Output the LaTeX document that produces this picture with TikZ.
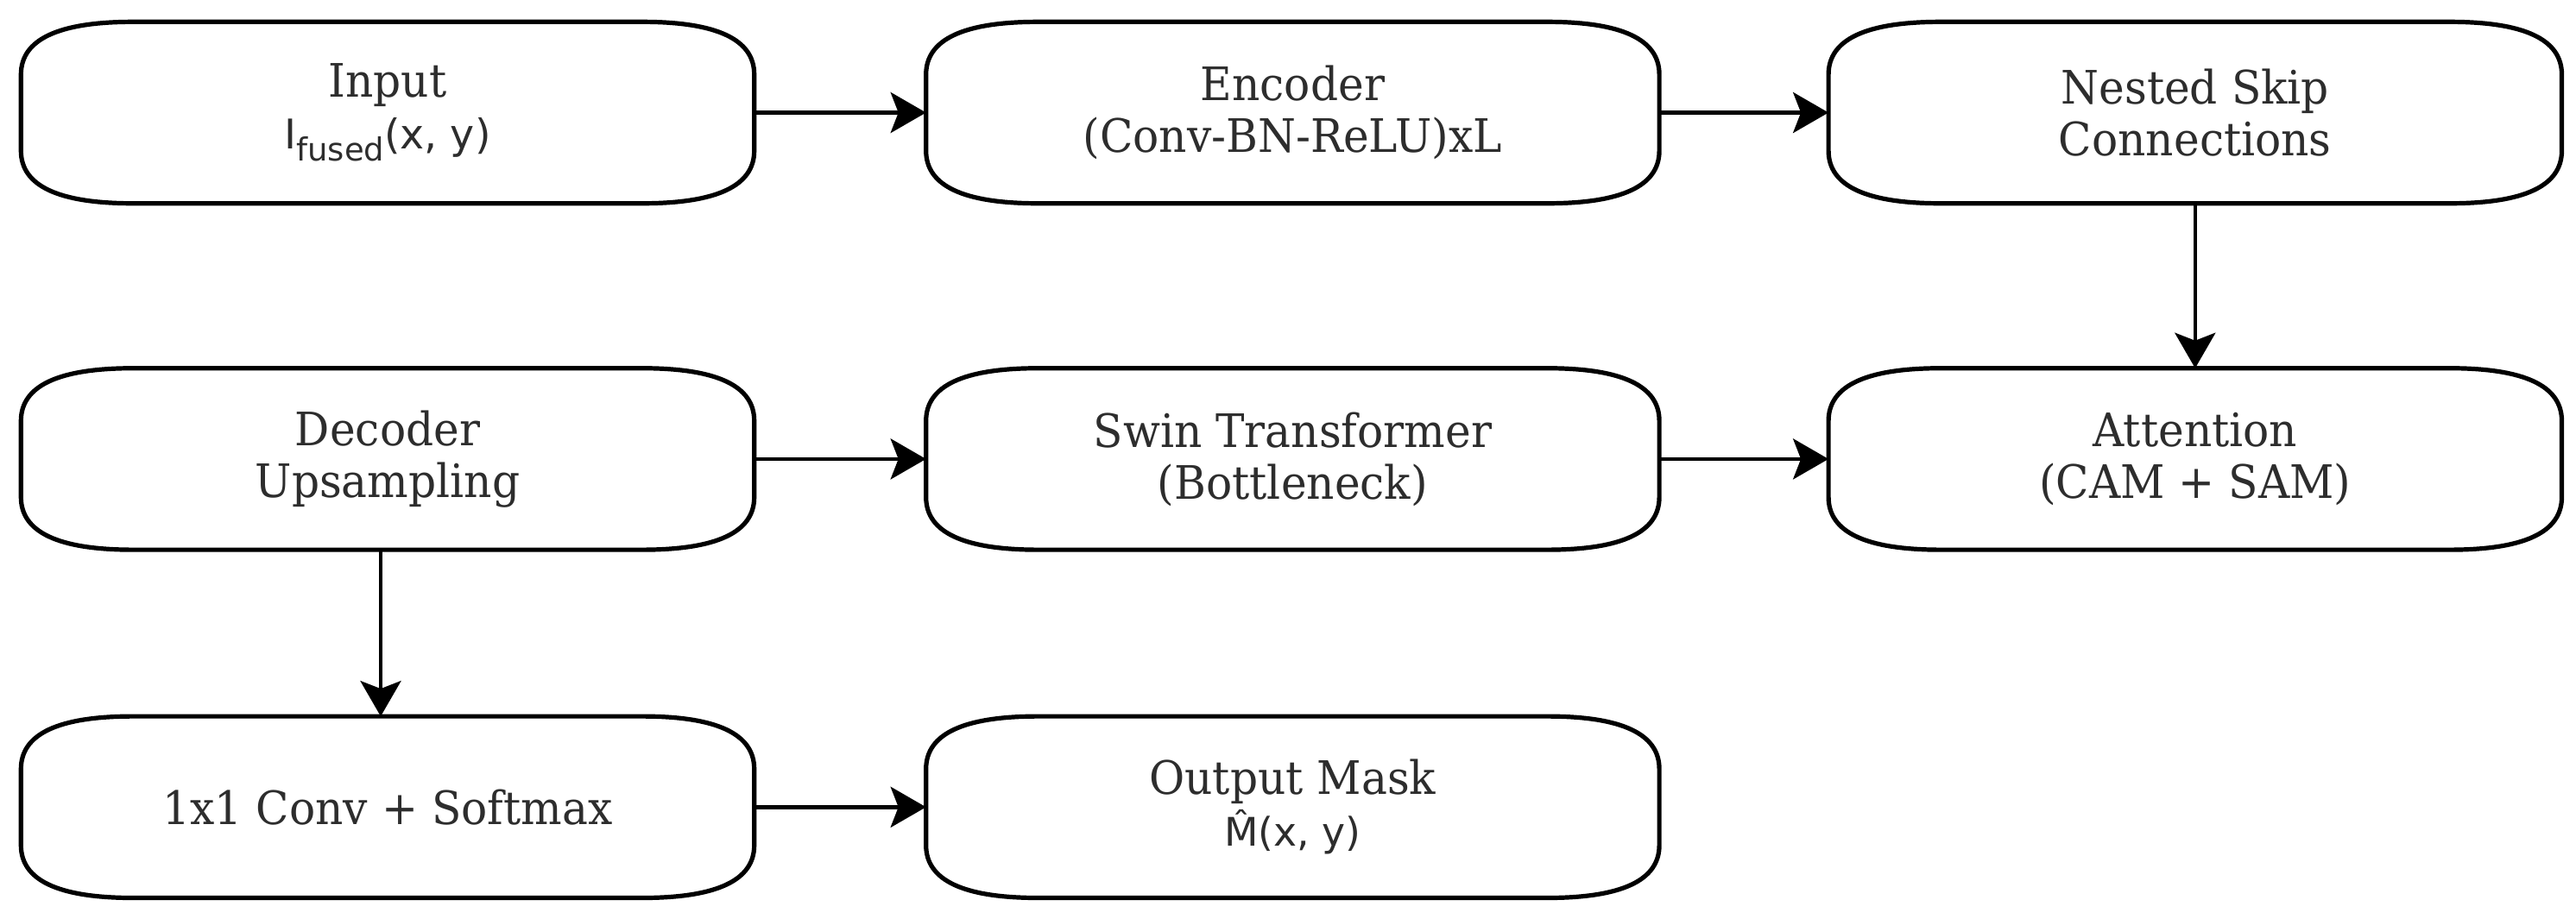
\documentclass[tikz,border=0pt]{standalone}
\usepackage{fontspec}
\setmainfont{DejaVu Serif}[FakeStretch=0.94]
\newfontfamily\mathsans{DejaVu Sans}
\usetikzlibrary{arrows.meta,positioning}

\definecolor{labelgray}{RGB}{45,45,45}
\newcommand{\boxrx}{1.3cm}
\newcommand{\boxry}{0.61cm}

\tikzset{
  block/.style={rectangle,draw=none,minimum width=8.48cm,minimum height=2.09cm,
    inner sep=0pt,align=center,text=labelgray,font=\fontsize{15.2}{17.1}\selectfont},
  boxline/.style={line width=0.052cm,draw=black},
  flow/.style={line width=0.045cm,-{Stealth[length=0.41cm,width=0.47cm,inset=0.09cm]}}
}

\begin{document}
\begin{tikzpicture}
	\useasboundingbox (0,0) rectangle (29.84,-10.64);

	% first row
	\node[block] (input) at (4.49,-1.305) {Input\\{\mathsans\fontsize{13.5}{15}\selectfont I\raisebox{-0.3em}{\fontsize{10.5}{11}\selectfont fused}(x, y)}};
	\node[block,right=1.99cm of input] (encoder) {Encoder\\(Conv-BN-ReLU)xL};
	\node[block,right=1.96cm of encoder] (skips) {Nested Skip\\Connections};

	% second row
	\node[block,below=1.91cm of input] (decoder) {Decoder\\Upsampling};
	\node[block,below=1.91cm of encoder] (swin) {Swin Transformer\\(Bottleneck)};
	\node[block,below=1.91cm of skips] (attention) {Attention\\(CAM + SAM)};

	% third row
	\node[block,below=1.93cm of decoder] (head) {1x1 Conv + Softmax};
	\node[block,below=1.93cm of swin] (output) {Output Mask\\{\mathsans\fontsize{13}{15}\selectfont M^^^^0302(x, y)}};

	% outlines with quadratic corners
	\foreach \b in {input,encoder,skips,decoder,swin,attention,head,output}
		\draw[boxline] ([xshift=\boxrx]\b.north west) -- ([xshift=-\boxrx]\b.north east)
			.. controls ([xshift=-\boxrx/3]\b.north east) and ([yshift=-\boxry/3]\b.north east) .. ([yshift=-\boxry]\b.north east)
			-- ([yshift=\boxry]\b.south east)
			.. controls ([yshift=\boxry/3]\b.south east) and ([xshift=-\boxrx/3]\b.south east) .. ([xshift=-\boxrx]\b.south east)
			-- ([xshift=\boxrx]\b.south west)
			.. controls ([xshift=\boxrx/3]\b.south west) and ([yshift=\boxry/3]\b.south west) .. ([yshift=\boxry]\b.south west)
			-- ([yshift=-\boxry]\b.north west)
			.. controls ([yshift=-\boxry/3]\b.north west) and ([xshift=\boxrx/3]\b.north west) .. ([xshift=\boxrx]\b.north west)
			-- cycle;

	\draw[flow] (input) -- (encoder);
	\draw[flow] (encoder) -- (skips);
	\draw[flow] (skips) -- (attention);
	\draw[flow] (decoder) -- (swin);
	\draw[flow] (swin) -- (attention);
	\draw[flow] ([xshift=-0.08cm]decoder.south) -- ([xshift=-0.08cm]head.north);
	\draw[flow] (head) -- (output);
\end{tikzpicture}
\end{document}
